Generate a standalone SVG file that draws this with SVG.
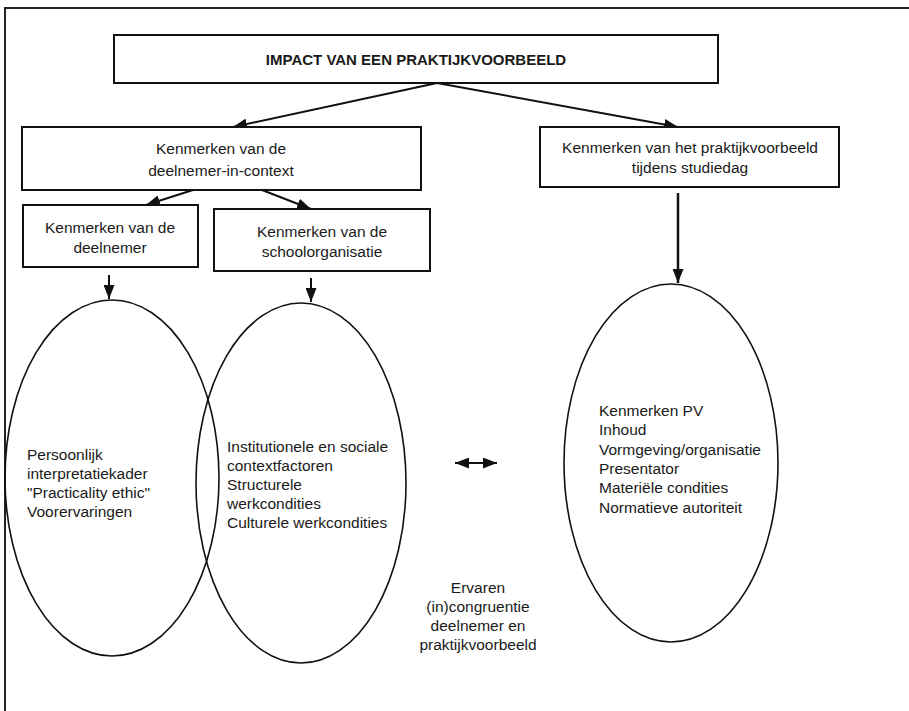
<svg xmlns="http://www.w3.org/2000/svg" width="909" height="711" viewBox="0 0 909 711">
<defs>
<marker id="ah" viewBox="0 0 14 11" refX="14" refY="5.5" markerWidth="14" markerHeight="11" markerUnits="userSpaceOnUse" orient="auto-start-reverse">
<path d="M0,0 L14,5.5 L0,11 z" fill="#111"/>
</marker>
<style>
.box{fill:#fff;stroke:#111;stroke-width:2}
.ell{fill:none;stroke:#111;stroke-width:1.6}
.t{font-family:"Liberation Sans",Arial,sans-serif;font-size:15.5px;fill:#1a1a1a}
.c{text-anchor:middle}
.b{font-weight:bold;font-size:15px}
.ln{stroke:#111;stroke-width:2;fill:none;marker-end:url(#ah)}
</style>
</defs>
<rect width="909" height="711" fill="#fff"/>
<path d="M5,711 V8 H909" fill="none" stroke="#222" stroke-width="2"/>

<g id="connectors">
<line class="ln" x1="437" y1="83" x2="233" y2="127"/>
<line class="ln" x1="437" y1="83" x2="678" y2="127"/>
<line class="ln" x1="193" y1="190" x2="146" y2="205"/>
<line class="ln" x1="262" y1="190" x2="311" y2="209"/>
<line class="ln" x1="109" y1="275" x2="109" y2="299"/>
<line class="ln" x1="311" y1="278" x2="311" y2="302"/>
<line class="ln" x1="678" y1="193" x2="678" y2="283" style="stroke-width:2.5"/>
<line class="ln" x1="455" y1="463" x2="497" y2="463" style="marker-start:url(#ah)"/>
</g>

<g id="n-impact">
<rect class="box" x="114" y="35" width="604" height="48"/>
<text class="t c b" x="416" y="65">IMPACT VAN EEN PRAKTIJKVOORBEELD</text>
</g>

<g id="n-deelnemer-in-context">
<rect class="box" x="22" y="127" width="399" height="63"/>
<text class="t c" x="221" y="154">Kenmerken van de</text>
<text class="t c" x="221" y="176">deelnemer-in-context</text>
</g>

<g id="n-praktijkvoorbeeld">
<rect class="box" x="540" y="127" width="299" height="60"/>
<text class="t c" x="690" y="153">Kenmerken van het praktijkvoorbeeld</text>
<text class="t c" x="690" y="173">tijdens studiedag</text>
</g>

<g id="n-deelnemer">
<rect class="box" x="23" y="205" width="175" height="62"/>
<text class="t c" x="110" y="233">Kenmerken van de</text>
<text class="t c" x="110" y="253">deelnemer</text>
</g>

<g id="n-schoolorganisatie">
<rect class="box" x="214" y="209" width="216" height="62"/>
<text class="t c" x="322" y="237">Kenmerken van de</text>
<text class="t c" x="322" y="257">schoolorganisatie</text>
</g>

<g id="n-persoonlijk">
<ellipse class="ell" cx="112" cy="478" rx="107" ry="178"/>
<text class="t" x="27" y="460">Persoonlijk</text>
<text class="t" x="27" y="479">interpretatiekader</text>
<text class="t" x="27" y="498">"Practicality ethic"</text>
<text class="t" x="27" y="517">Voorervaringen</text>
</g>

<g id="n-context">
<ellipse class="ell" cx="301" cy="483" rx="105" ry="180"/>
<text class="t" x="227" y="452">Institutionele en sociale</text>
<text class="t" x="227" y="471">contextfactoren</text>
<text class="t" x="227" y="490">Structurele</text>
<text class="t" x="227" y="509">werkcondities</text>
<text class="t" x="227" y="528">Culturele werkcondities</text>
</g>

<g id="n-pv">
<ellipse class="ell" cx="671" cy="463" rx="107" ry="179"/>
<text class="t" x="599" y="416">Kenmerken PV</text>
<text class="t" x="599" y="435">Inhoud</text>
<text class="t" x="599" y="455">Vormgeving/organisatie</text>
<text class="t" x="599" y="474">Presentator</text>
<text class="t" x="599" y="493">Materiële condities</text>
<text class="t" x="599" y="513">Normatieve autoriteit</text>
</g>

<g id="n-ervaren">
<text class="t c" x="478" y="593">Ervaren</text>
<text class="t c" x="478" y="612">(in)congruentie</text>
<text class="t c" x="478" y="631">deelnemer en</text>
<text class="t c" x="478" y="650">praktijkvoorbeeld</text>
</g>
</svg>
